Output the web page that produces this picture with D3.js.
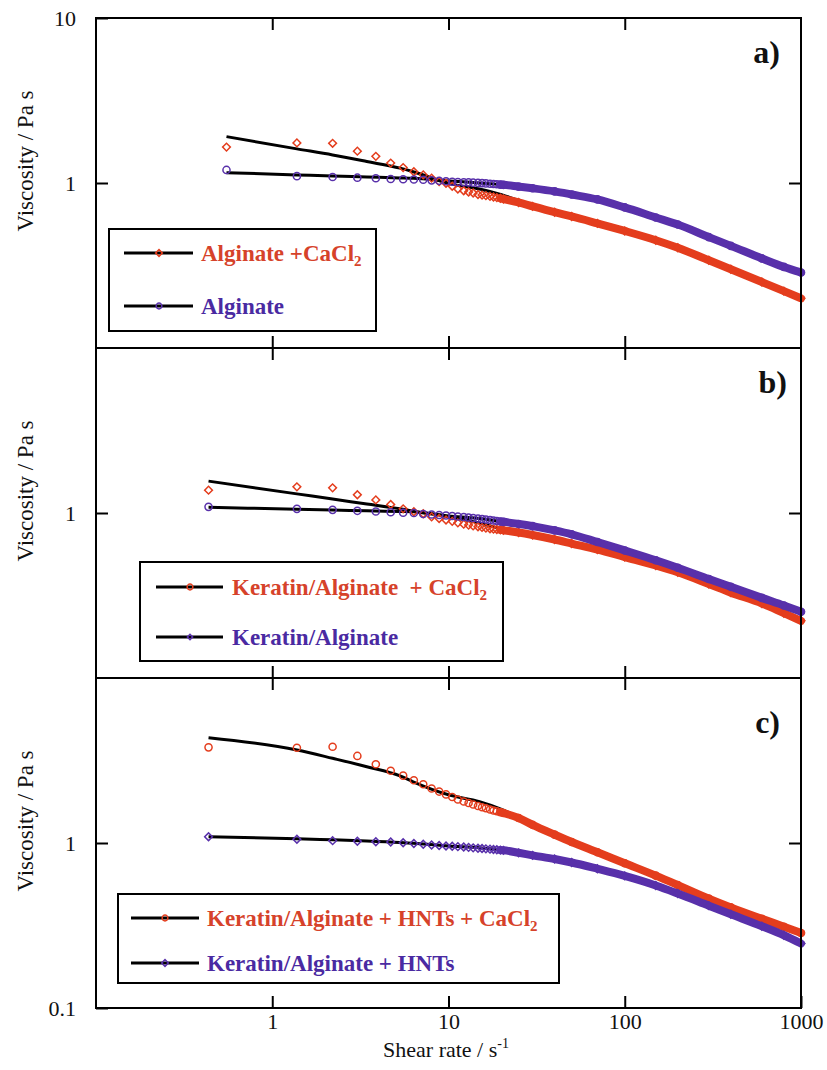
<!DOCTYPE html>
<html>
<head>
<meta charset="utf-8">
<script src="https://cdn.jsdelivr.net/npm/d3@7/dist/d3.min.js"></script>
<style>
  html, body { margin: 0; padding: 0; background: #fff; }
  svg { display: block; }
  text { font-family: "Liberation Serif", "Times New Roman", serif; }
</style>
</head>
<body>
<svg id="chart" width="827" height="1070"></svg>
<script>
// Shear-rate grid of the measured points (s^-1)
const shearA  = [0.55, 1.38, 2.2, 3.04, 3.87, 4.7, 5.53, 6.36, 7.19, 8.02,
                 8.85, 9.68, 10.5, 11.3, 12.2, 13.0, 13.8, 14.7, 15.5, 16.3,
                 17.2, 18.0, 18.8, 19.7, 20.5, 25, 30, 40, 50, 70,
                 100, 150, 200, 300, 400, 600, 800, 1000];
const shearBC = [0.435, 1.38, 2.2, 3.04, 3.87, 4.7, 5.53, 6.36, 7.19, 8.02,
                 8.85, 9.68, 10.5, 11.3, 12.2, 13.0, 13.8, 14.7, 15.5, 16.3,
                 17.2, 18.0, 18.8, 19.7, 20.5, 25, 30, 40, 50, 70,
                 100, 150, 200, 300, 400, 600, 800, 1000];

// Viscosity (Pa s) — panel a
const etaAlginateCa = [1.65, 1.75, 1.74, 1.56, 1.45, 1.32, 1.24, 1.17, 1.12, 1.07,
                       1.02, 0.996, 0.956, 0.92, 0.897, 0.882, 0.87, 0.852, 0.845, 0.838,
                       0.83, 0.823, 0.816, 0.808, 0.80, 0.762, 0.722, 0.665, 0.627, 0.569,
                       0.512, 0.45, 0.405, 0.34, 0.30, 0.251, 0.221, 0.2];
const etaAlginate   = [1.2, 1.10, 1.087, 1.077, 1.068, 1.057, 1.053, 1.05, 1.046, 1.038,
                       1.031, 1.024, 1.018, 1.014, 1.011, 1.008, 1.005, 1.001, 0.998, 0.994,
                       0.99, 0.986, 0.982, 0.978, 0.975, 0.951, 0.929, 0.89, 0.852, 0.795,
                       0.711, 0.618, 0.56, 0.47, 0.416, 0.349, 0.31, 0.287];
// panel b
const etaKerAlgCa   = [1.375, 1.44, 1.42, 1.29, 1.2, 1.126, 1.06, 1.017, 0.989, 0.948,
                       0.926, 0.907, 0.89, 0.872, 0.856, 0.845, 0.835, 0.826, 0.818, 0.81,
                       0.803, 0.798, 0.794, 0.79, 0.786, 0.762, 0.736, 0.691, 0.653, 0.60,
                       0.541, 0.481, 0.437, 0.371, 0.329, 0.283, 0.247, 0.222];
const etaKerAlg     = [1.09, 1.06, 1.045, 1.031, 1.021, 1.011, 1.003, 1.0, 0.986, 0.979,
                       0.972, 0.966, 0.959, 0.952, 0.946, 0.939, 0.933, 0.926, 0.92, 0.913,
                       0.907, 0.901, 0.894, 0.888, 0.884, 0.858, 0.833, 0.785, 0.743, 0.667,
                       0.593, 0.517, 0.466, 0.398, 0.357, 0.306, 0.275, 0.252];
// panel c
const etaKerAlgHntCa = [3.80, 3.78, 3.83, 3.37, 3.0, 2.74, 2.56, 2.40, 2.27, 2.14,
                        2.05, 1.97, 1.90, 1.835, 1.785, 1.747, 1.712, 1.676, 1.648, 1.623,
                        1.596, 1.574, 1.557, 1.537, 1.52, 1.417, 1.289, 1.124, 1.014, 0.879,
                        0.754, 0.634, 0.556, 0.46, 0.407, 0.347, 0.311, 0.285];
const etaKerAlgHnt   = [1.092, 1.053, 1.033, 1.024, 1.018, 1.014, 1.004, 0.993, 0.982, 0.972,
                        0.966, 0.959, 0.955, 0.95, 0.945, 0.94, 0.935, 0.93, 0.926, 0.922,
                        0.918, 0.914, 0.91, 0.906, 0.903, 0.872, 0.842, 0.80, 0.762, 0.698,
                        0.632, 0.553, 0.494, 0.417, 0.37, 0.313, 0.276, 0.246];

// Model fit curves (black lines)
const fitShearA  = [0.55, 1.38, 2.2, 3.44, 5.31, 6.3, 10, 15, 20, 30, 50, 100, 300, 1000];
const fitShearBC = [0.435, 1.38, 2.2, 3.44, 5.31, 6.3, 10, 15, 20, 30, 50, 100, 300, 1000];
const fitAlginateCa   = [1.91, 1.61, 1.48, 1.35, 1.23, 1.17, 0.995, 0.92, 0.85, 0.73, 0.627, 0.512, 0.34, 0.2];
const fitAlginate     = [1.155, 1.12, 1.104, 1.089, 1.074, 1.067, 1.03, 1.0, 0.978, 0.929, 0.852, 0.711, 0.47, 0.287];
const fitKerAlgCa     = [1.56, 1.306, 1.214, 1.134, 1.06, 1.025, 0.95, 0.87, 0.8, 0.736, 0.653, 0.541, 0.371, 0.222];
const fitKerAlg       = [1.084, 1.054, 1.043, 1.031, 1.021, 1.017, 0.96, 0.925, 0.885, 0.833, 0.743, 0.593, 0.398, 0.252];
const fitKerAlgHntCa  = [4.35, 3.66, 3.26, 2.9, 2.55, 2.35, 1.96, 1.78, 1.6, 1.289, 1.014, 0.754, 0.46, 0.285];
const fitKerAlgHnt    = [1.092, 1.06, 1.045, 1.03, 1.008, 0.996, 0.96, 0.935, 0.91, 0.842, 0.762, 0.632, 0.417, 0.246];

// Axis ticks
const xTicks = [1, 10, 100];
const xTickLabels = [1, 10, 100, 1000];
const yTicksA = [10, 1];
const yTicksB = [1];
const yTicksC = [1, 0.1];

const RED = "#e43d1d";
const BLUE = "#5830aa";
const RED_TEXT = "#d6422a";
const BLUE_TEXT = "#4a2aa2";

const svg = d3.select("#chart");
const x = d3.scaleLog().domain([0.1, 1000]).range([96, 801]);

const panels = [
  { top: 18, bottom: 348, yTicks: yTicksA, tag: "a)", tagX: 780, tagY: 63,
    series: [
      { shear: shearA, eta: etaAlginateCa, fit: fitAlginateCa, fitShear: fitShearA, color: RED, shape: "diamond" },
      { shear: shearA, eta: etaAlginate, fit: fitAlginate, fitShear: fitShearA, color: BLUE, shape: "circle" }
    ],
    legend: { x0: 109, y0: 229, x1: 376, y1: 331, lx0: 124, lx1: 193, mx: 159, tx: 201, rows: [
      { y: 253, label: "Alginate +CaCl", sub: "2", color: RED, text: RED_TEXT, shape: "diamond" },
      { y: 306, label: "Alginate", sub: null, color: BLUE, text: BLUE_TEXT, shape: "circle" }
    ]}
  },
  { top: 348, bottom: 678, yTicks: yTicksB, tag: "b)", tagX: 787, tagY: 393,
    series: [
      { shear: shearBC, eta: etaKerAlgCa, fit: fitKerAlgCa, fitShear: fitShearBC, color: RED, shape: "diamond" },
      { shear: shearBC, eta: etaKerAlg, fit: fitKerAlg, fitShear: fitShearBC, color: BLUE, shape: "circle" }
    ],
    legend: { x0: 140, y0: 562, x1: 503, y1: 661, lx0: 156, lx1: 223, mx: 190, tx: 232, rows: [
      { y: 587, label: "Keratin/Alginate\u00a0 + CaCl", sub: "2", color: RED, text: RED_TEXT, shape: "circle" },
      { y: 637, label: "Keratin/Alginate", sub: null, color: BLUE, text: BLUE_TEXT, shape: "smalldiamond" }
    ]}
  },
  { top: 678, bottom: 1008, yTicks: yTicksC, tag: "c)", tagX: 780, tagY: 733,
    series: [
      { shear: shearBC, eta: etaKerAlgHntCa, fit: fitKerAlgHntCa, fitShear: fitShearBC, color: RED, shape: "circle" },
      { shear: shearBC, eta: etaKerAlgHnt, fit: fitKerAlgHnt, fitShear: fitShearBC, color: BLUE, shape: "diamond" }
    ],
    legend: { x0: 118, y0: 894, x1: 559, y1: 983, lx0: 131, lx1: 199, mx: 165, tx: 207, rows: [
      { y: 918, label: "Keratin/Alginate + HNTs + CaCl", sub: "2", color: RED, text: RED_TEXT, shape: "circle" },
      { y: 963, label: "Keratin/Alginate + HNTs", sub: null, color: BLUE, text: BLUE_TEXT, shape: "diamond" }
    ]}
  }
];

function markerPath(shape, big) {
  if (shape === "circle") return d3.symbol(d3.symbolCircle, big ? 40 : 26)();
  if (shape === "smalldiamond") return d3.symbol(d3.symbolSquare, 14)();
  return d3.symbol(d3.symbolSquare, big ? 30 : 22)();
}
function markerTransform(shape, px, py) {
  return shape === "circle" ? `translate(${px},${py})` : `translate(${px},${py}) rotate(45)`;
}

panels.forEach((p, i) => {
  const y = d3.scaleLog().domain([0.1, 10]).range([p.bottom, p.top]);
  const g = svg.append("g");

  // fitted model curves, under the data
  p.series.forEach(s => {
    const pts = s.fitShear.map((xv, k) => [xv, s.fit[k]]);
    g.append("path")
      .attr("d", d3.line().x(d => x(d[0])).y(d => y(d[1])).curve(d3.curveMonotoneX)(pts))
      .attr("fill", "none").attr("stroke", "#000").attr("stroke-width", 3);
  });

  // data: the dense high-shear region merges into a continuous band of markers
  p.series.forEach(s => {
    const pts = s.shear.map((xv, k) => [xv, s.eta[k]]);
    const dense = pts.filter(d => d[0] >= 19.7);
    g.append("path")
      .attr("d", d3.line().x(d => x(d[0])).y(d => y(d[1])).curve(d3.curveMonotoneX)(dense))
      .attr("fill", "none").attr("stroke", s.color).attr("stroke-width", 8)
      .attr("stroke-linecap", "round").attr("stroke-linejoin", "round");
    g.selectAll(null).data(pts).join("path")
      .attr("d", markerPath(s.shape, true))
      .attr("transform", d => markerTransform(s.shape, x(d[0]), y(d[1])))
      .attr("fill", "none").attr("stroke", s.color).attr("stroke-width", 1.5);
  });

  // axes with inward ticks
  const styleAxis = sel => {
    sel.select(".domain").remove();
    sel.selectAll(".tick line").attr("stroke", "#000").attr("stroke-width", 2);
    sel.selectAll(".tick text").attr("font-size", 22).attr("fill", "#111")
      .attr("font-family", "'Liberation Serif', 'Times New Roman', serif");
  };
  const isLast = i === panels.length - 1;
  g.append("g").attr("transform", `translate(0,${p.bottom})`)
    .call(d3.axisBottom(x).tickValues(isLast ? xTickLabels : xTicks).tickSizeInner(-12).tickSizeOuter(0)
      .tickPadding(5).tickFormat(isLast ? d3.format("d") : () => ""))
    .call(styleAxis);
  g.append("g").attr("transform", `translate(0,${p.top})`)
    .call(d3.axisTop(x).tickValues(xTicks).tickSizeInner(-12).tickSizeOuter(0).tickFormat(() => ""))
    .call(styleAxis);
  g.append("g").attr("transform", `translate(96,0)`)
    .call(d3.axisLeft(y).tickValues(p.yTicks).tickSizeInner(-12).tickSizeOuter(0).tickPadding(20)
      .tickFormat(d => String(d)))
    .call(styleAxis);
  g.append("g").attr("transform", `translate(801,0)`)
    .call(d3.axisRight(y).tickValues([1]).tickSizeInner(-12).tickSizeOuter(0).tickFormat(() => ""))
    .call(styleAxis);

  // frame
  g.append("rect").attr("x", 96).attr("y", p.top).attr("width", 705).attr("height", p.bottom - p.top)
    .attr("fill", "none").attr("stroke", "#000").attr("stroke-width", 2);

  // y title
  g.append("text")
    .attr("transform", `translate(33,${y(1) - 22}) rotate(-90)`)
    .attr("text-anchor", "middle").attr("font-size", 23).attr("fill", "#111")
    .text("Viscosity / Pa s");

  // panel tag
  g.append("text").attr("x", p.tagX).attr("y", p.tagY).attr("text-anchor", "end")
    .attr("font-size", 32).attr("font-weight", "bold").attr("fill", "#111").text(p.tag);

  // legend
  const L = p.legend;
  g.append("rect").attr("x", L.x0).attr("y", L.y0).attr("width", L.x1 - L.x0).attr("height", L.y1 - L.y0)
    .attr("fill", "#fff").attr("stroke", "#000").attr("stroke-width", 2);
  L.rows.forEach(r => {
    g.append("line").attr("x1", L.lx0).attr("x2", L.lx1).attr("y1", r.y).attr("y2", r.y)
      .attr("stroke", "#000").attr("stroke-width", 3);
    g.append("path").attr("d", markerPath(r.shape, false))
      .attr("transform", markerTransform(r.shape, L.mx, r.y))
      .attr("fill", "none").attr("stroke", r.color).attr("stroke-width", 1.5);
    const t = g.append("text").attr("x", L.tx).attr("y", r.y + 8)
      .attr("font-size", 23).attr("font-weight", "bold").attr("fill", r.text);
    t.append("tspan").text(r.label);
    if (r.sub) t.append("tspan").attr("font-size", 15).attr("dy", 5).text(r.sub);
  });
});

// x title
const xt = svg.append("text").attr("x", 446).attr("y", 1057).attr("text-anchor", "middle")
  .attr("font-size", 22).attr("fill", "#111");
xt.append("tspan").text("Shear rate / s");
xt.append("tspan").attr("font-size", 14).attr("dy", -9).text("-1");
</script>
</body>
</html>
